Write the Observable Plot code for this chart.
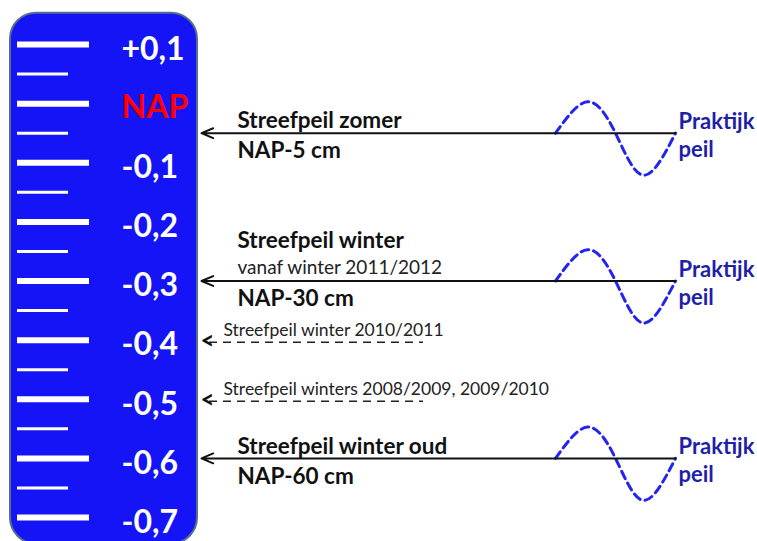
<!DOCTYPE html>
<html><head><meta charset="utf-8">
<script src="https://cdn.jsdelivr.net/npm/d3@7"></script>
<script src="https://cdn.jsdelivr.net/npm/@observablehq/plot@0.6"></script>
<style>html,body{margin:0;padding:0;background:#fff;} #chart svg{display:block;}</style>
</head><body><div id="chart"></div>
<script>
// ---- data ----
const majorTicks = [0.1, 0, -0.1, -0.2, -0.3, -0.4, -0.5, -0.6, -0.7];
const tickLabels = ["+0,1", "NAP", "-0,1", "-0,2", "-0,3", "-0,4", "-0,5", "-0,6", "-0,7"];
const minorTicks = [0.05, -0.05, -0.15, -0.25, -0.35, -0.45, -0.55, -0.65];
const targetLevels = [-0.05, -0.3, -0.6];
const targetTitles = ["Streefpeil zomer", "Streefpeil winter", "Streefpeil winter oud"];
const targetValues = ["NAP-5 cm", "NAP-30 cm", "NAP-60 cm"];
const targetNotes = ["", "vanaf winter 2011/2012", ""];
const formerLevels = [-0.4, -0.5];
const formerLabels = ["Streefpeil winter 2010/2011", "Streefpeil winters 2008/2009, 2009/2010"];
const practiceLabel = "Praktijk\npeil";
const waveX = [555, 587, 615, 643, 675];
const waveOffset = [0, 0.053, 0, -0.071, 0];

// ---- derived table for the waves ----
const waves = targetLevels.flatMap((lvl, k) =>
  waveX.map((x, j) => ({x, y: lvl + waveOffset[j], k})));

const font = "Lato, 'Open Sans', sans-serif";

const chart = Plot.plot({
  width: 757,
  height: 541,
  margin: 0,
  style: {fontFamily: font, background: "white"},
  x: {domain: [0, 757], range: [0, 757], axis: null},
  y: {domain: [0.1, -0.7], range: [44, 517], axis: null},
  marks: [
    // gauge body
    Plot.rect([0], {x1: () => 10, x2: () => 197, y1: () => 0.153, y2: () => -0.745,
      rx: 26, fill: "#1414f6", stroke: "#56708c", strokeWidth: 2}),
    // ticks
    Plot.ruleY(majorTicks, {y: d => d, x1: () => 17, x2: () => 89, stroke: "white", strokeWidth: 6}),
    Plot.ruleY(minorTicks, {y: d => d, x1: () => 17, x2: () => 68, stroke: "white", strokeWidth: 3}),
    // tick labels
    Plot.text(majorTicks, {filter: (d, i) => tickLabels[i] !== "NAP", x: () => 121, y: d => d,
      text: (d, i) => tickLabels[i], textAnchor: "start", dy: 5,
      fontSize: 32, fontWeight: "bold", fill: "white"}),
    Plot.text(majorTicks, {filter: (d, i) => tickLabels[i] === "NAP", x: () => 121, y: d => d,
      text: (d, i) => tickLabels[i], textAnchor: "start", dy: 4,
      fontSize: 32, fontWeight: "bold", fill: "#ff0000"}),
    // waves (praktijk peil)
    Plot.line(waves, {x: "x", y: "y", z: "k", curve: "natural",
      stroke: "#2424ee", strokeWidth: 3, strokeDasharray: "8,5"}),
    // target level arrows
    Plot.arrow(targetLevels, {x1: () => 675, x2: () => 201, y1: d => d, y2: d => d,
      stroke: "#111", strokeWidth: 2, headLength: 9.5, headAngle: 46}),
    // target level texts
    Plot.text(targetLevels, {filter: (d, i) => targetNotes[i] === "", x: () => 237, y: d => d,
      text: (d, i) => targetTitles[i], textAnchor: "start", dy: -12,
      fontSize: 22.5, fontWeight: "bold", fill: "#111"}),
    Plot.text(targetLevels, {filter: (d, i) => targetNotes[i] !== "", x: () => 237, y: d => d,
      text: (d, i) => targetTitles[i], textAnchor: "start", dy: -40,
      fontSize: 22.5, fontWeight: "bold", fill: "#111"}),
    Plot.text(targetLevels, {filter: (d, i) => targetNotes[i] !== "", x: () => 237, y: d => d,
      text: (d, i) => targetNotes[i], textAnchor: "start", dy: -13,
      fontSize: 19, fill: "#222"}),
    Plot.text(targetLevels, {x: () => 237, y: d => d,
      text: (d, i) => targetValues[i], textAnchor: "start", dy: 18,
      fontSize: 22.5, fontWeight: "bold", fill: "#111"}),
    Plot.text(targetLevels, {x: () => 678, y: d => d, text: () => practiceLabel,
      textAnchor: "start", dy: 1, lineHeight: 1.27,
      fontSize: 22, fontWeight: "bold", fill: "#1f1fa8"}),
    // former target levels
    Plot.ruleY(formerLevels, {y: d => d, x1: () => 209, x2: () => 423, dy: 2,
      stroke: "#222", strokeWidth: 1.5, strokeDasharray: "8,6"}),
    Plot.text(formerLevels, {x: () => 200, y: d => d, text: () => "<", textAnchor: "start",
      dy: 1, fontSize: 24, fontWeight: "bold", fill: "#111"}),
    Plot.text(formerLevels, {x: () => 223, y: d => d, text: (d, i) => formerLabels[i],
      textAnchor: "start", dy: -9.5, fontSize: 17.5, fill: "#222"})
  ]
});
document.getElementById("chart").append(chart);
</script>
</body></html>
